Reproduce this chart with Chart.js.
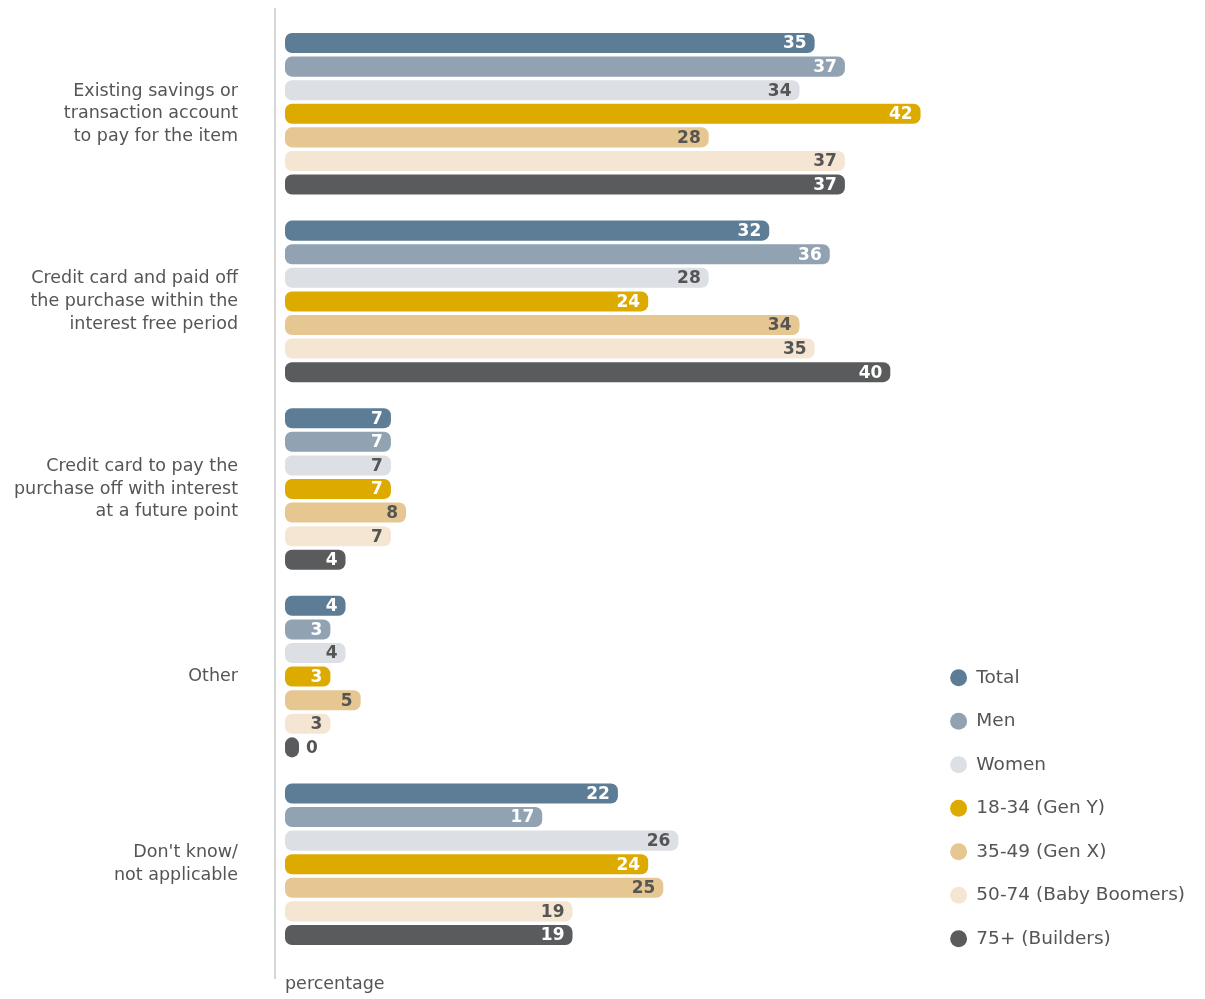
<!DOCTYPE html>
<html lang="en">
  <head>
    <meta charset="UTF-8" />
    <title>How the purchase was paid for</title>
    <script src="https://cdn.jsdelivr.net/npm/chart.js"></script>
    <style>
      html, body { margin: 0; padding: 0; background: #fff; }
      .chart-container { width: 1205px; height: 999px; position: relative; }
    </style>
  </head>
  <body>
    <div class="chart-container">
      <canvas id="payChart"></canvas>
    </div>

    <script>
      const categories = [
        ["Existing savings or", "transaction account", "to pay for the item"],
        ["Credit card and paid off", "the purchase within the", "interest free period"],
        ["Credit card to pay the", "purchase off with interest", "at a future point"],
        "Other",
        ["Don't know/", "not applicable"],
      ];
      const seriesNames = [
        "Total", "Men", "Women", "18-34 (Gen Y)", "35-49 (Gen X)",
        "50-74 (Baby Boomers)", "75+ (Builders)",
      ];
      const total = [35, 32, 7, 4, 22];
      const men = [37, 36, 7, 3, 17];
      const women = [34, 28, 7, 4, 26];
      const genY = [42, 24, 7, 3, 24];
      const genX = [28, 34, 8, 5, 25];
      const boomers = [37, 35, 7, 3, 19];
      const builders = [37, 40, 4, 0, 19];

      const seriesValues = [total, men, women, genY, genX, boomers, builders];
      const barColors = ["#5d7d96", "#91a3b2", "#dcdfe4", "#ddaa00", "#e6c791", "#f5e6d4", "#5a5b5d"];
      const labelColors = ["#ffffff", "#ffffff", "#555555", "#ffffff", "#555555", "#555555", "#ffffff"];
      const textColor = "#555555";
      const fontFamily = "'DejaVu Sans', sans-serif";

      // value labels at the end of each bar
      const valueLabels = {
        id: "valueLabels",
        afterDatasetsDraw(chart) {
          const ctx = chart.ctx;
          ctx.save();
          ctx.font = "bold 17px " + fontFamily;
          ctx.textBaseline = "middle";
          chart.data.datasets.forEach((ds, i) => {
            chart.getDatasetMeta(i).data.forEach((bar, j) => {
              const v = ds.data[j];
              if (v === 0) {
                ctx.textAlign = "left";
                ctx.fillStyle = textColor;
                ctx.fillText(v, bar.x + 7, bar.y + 1);
              } else {
                ctx.textAlign = "right";
                ctx.fillStyle = labelColors[i];
                ctx.fillText(v, bar.x - 8, bar.y + 1);
              }
            });
          });
          ctx.restore();
        },
      };

      // vertical axis line left of the bars
      const axisLine = {
        id: "axisLine",
        beforeDatasetsDraw(chart) {
          const ctx = chart.ctx;
          const x = chart.chartArea.left - 10;
          ctx.save();
          ctx.strokeStyle = "#c8c8c8";
          ctx.lineWidth = 1.5;
          ctx.beginPath();
          ctx.moveTo(x, 8);
          ctx.lineTo(x, 979);
          ctx.stroke();
          ctx.restore();
        },
      };

      const ctx = document.getElementById("payChart").getContext("2d");
      new Chart(ctx, {
        type: "bar",
        data: {
          labels: categories,
          datasets: seriesValues.map((vals, i) => ({
            label: seriesNames[i],
            data: vals,
            backgroundColor: barColors[i],
            borderRadius: 7,
            borderSkipped: false,
            minBarLength: 14,
            categoryPercentage: 0.88,
            barPercentage: 0.85,
          })),
        },
        options: {
          indexAxis: "y",
          responsive: true,
          maintainAspectRatio: false,
          animation: false,
          layout: { padding: { top: 20, bottom: 26, left: 0, right: 10 } },
          scales: {
            x: {
              min: 0,
              max: 42.3,
              grid: { display: false, drawTicks: false },
              border: { display: false },
              ticks: { display: false },
              title: {
                display: true,
                text: "percentage",
                align: "start",
                color: textColor,
                font: { family: fontFamily, size: 17.5 },
                padding: { top: 16, bottom: -22 },
              },
            },
            y: {
              grid: { display: false, drawTicks: false },
              border: { display: false },
              ticks: {
                color: textColor,
                padding: 47,
                font: { family: fontFamily, size: 17.5, lineHeight: 1.29 },
              },
              afterFit(scale) {
                scale.width = 285;
                // multi-line labels must not push the plot area in
                scale.paddingTop = 0;
                scale.paddingBottom = 0;
              },
            },
          },
          plugins: {
            tooltip: { enabled: false },
            legend: {
              position: "right",
              align: "end",
              labels: {
                usePointStyle: true,
                pointStyle: "circle",
                boxWidth: 17,
                boxHeight: 12,
                padding: 25,
                color: textColor,
                font: { family: fontFamily, size: 18.5 },
              },
            },
          },
        },
        plugins: [valueLabels, axisLine],
      });
    </script>
  </body>
</html>
